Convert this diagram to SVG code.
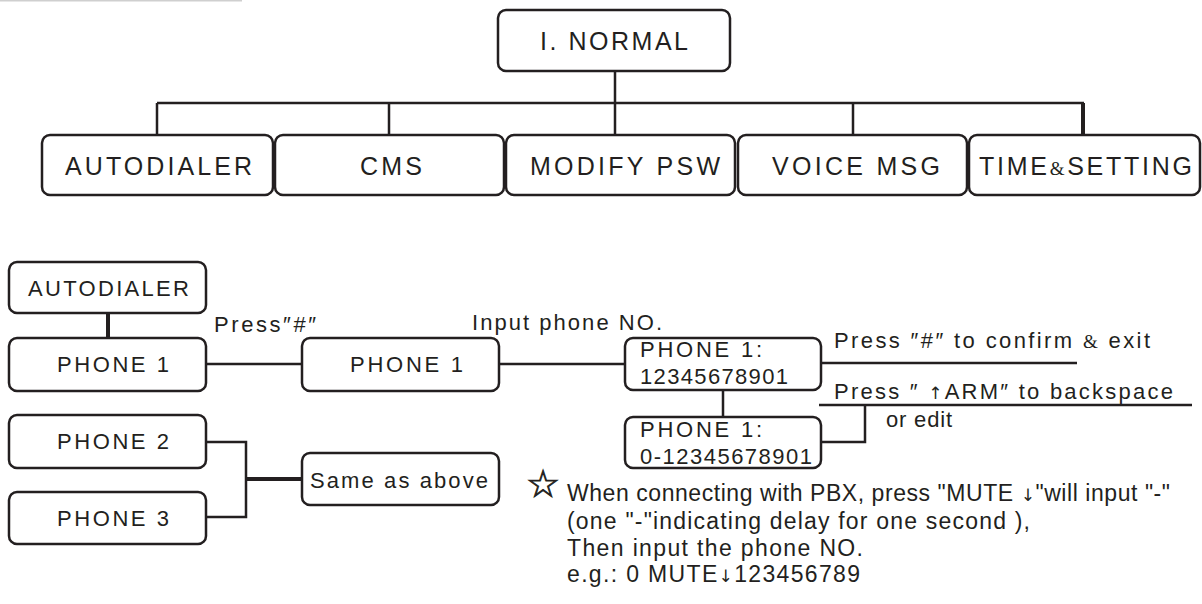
<svg xmlns="http://www.w3.org/2000/svg" width="1202" height="604" viewBox="0 0 1202 604">
<style>
text{font-family:"Liberation Sans",Arial,sans-serif;fill:#231f20}
.box{fill:#fff;stroke:#231f20;stroke-width:2.5}
.big{font-size:25px}
.mid{font-size:22px}
.note{font-size:23px}
.amp{font-family:"Liberation Serif","Times New Roman",serif;font-size:19px}
.arr{font-family:"DejaVu Sans",sans-serif;font-size:17px}
.ln{fill:none;stroke:#231f20;stroke-width:2.5}
.thick{fill:none;stroke:#231f20;stroke-width:4}
</style>
<rect width="1202" height="604" fill="#fff"/>
<line x1="0" y1="0.5" x2="242" y2="0.5" stroke="#cfcfcf" stroke-width="2"/>
<g id="connectors">
<path class="ln" d="M615 71V135M157 103H1084M157 103V135M389 103V135M853 103V135"/>
<path class="thick" d="M1083 103V135"/>
<path class="thick" d="M108 313V338"/>
<path class="ln" d="M206 364H302M499 364H625M821 363H1077M723 390V417M819 405H1192M865 405V442H821"/>
<path class="ln" d="M206 442H246V517H206"/>
<path class="thick" d="M246 479H302"/>
</g>
<g id="normal"><rect class="box" x="498" y="10" width="232" height="61" rx="8"/><text class="big" x="540" y="50" textLength="148">I. NORMAL</text></g>
<g id="autodialer-top"><rect class="box" x="42" y="135" width="231" height="60" rx="8"/><text class="big" x="65" y="175" textLength="187">AUTODIALER</text></g>
<g id="cms"><rect class="box" x="275" y="135" width="229" height="60" rx="8"/><text class="big" x="360" y="175" textLength="62">CMS</text></g>
<g id="modify-psw"><rect class="box" x="506" y="135" width="229" height="60" rx="8"/><text class="big" x="530" y="175" textLength="190">MODIFY PSW</text></g>
<g id="voice-msg"><rect class="box" x="738" y="135" width="229" height="60" rx="8"/><text class="big" x="772" y="175" textLength="168">VOICE MSG</text></g>
<g id="time-setting"><rect class="box" x="969" y="135" width="231" height="60" rx="8"/><text class="big" x="979" y="175" textLength="213">TIME<tspan class="amp">&amp;</tspan>SETTING</text></g>
<g id="autodialer"><rect class="box" x="9" y="262" width="197" height="51" rx="8"/><text class="mid" x="28" y="296" textLength="161">AUTODIALER</text></g>
<g id="phone1-a"><rect class="box" x="9" y="338" width="197" height="53" rx="8"/><text class="mid" x="57" y="372" textLength="112">PHONE 1</text></g>
<g id="phone1-b"><rect class="box" x="302" y="338" width="197" height="53" rx="8"/><text class="mid" x="350" y="372" textLength="113">PHONE 1</text></g>
<g id="phone1-input"><rect class="box" x="625" y="338" width="196" height="52" rx="8"/><text class="mid" x="640" y="357" textLength="122">PHONE 1:</text><text class="mid" x="640" y="384" textLength="148">12345678901</text></g>
<g id="phone1-edit"><rect class="box" x="625" y="417" width="196" height="51" rx="8"/><text class="mid" x="640" y="437" textLength="122">PHONE 1:</text><text class="mid" x="640" y="464" textLength="172">0-12345678901</text></g>
<g id="phone2"><rect class="box" x="9" y="415" width="197" height="53" rx="8"/><text class="mid" x="57" y="449" textLength="112">PHONE 2</text></g>
<g id="phone3"><rect class="box" x="9" y="492" width="197" height="52" rx="8"/><text class="mid" x="57" y="526" textLength="112">PHONE 3</text></g>
<g id="same"><rect class="box" x="302" y="453" width="197" height="52" rx="8"/><text class="mid" x="310" y="488" textLength="178">Same as above</text></g>
<g id="labels">
<text class="mid" x="214" y="332" textLength="102">Press″#″</text>
<text class="mid" x="472" y="330" textLength="190">Input phone NO.</text>
<text class="mid" x="834" y="348" textLength="316">Press ″#″ to confirm <tspan class="amp">&amp;</tspan> exit</text>
<text class="mid" x="834" y="399" textLength="339">Press ″ <tspan class="arr">↑</tspan>ARM″ to backspace</text>
<text class="mid" x="886" y="427" textLength="66">or edit</text>
</g>
<g id="note">
<text x="526" y="497" style="font-family:'DejaVu Sans',sans-serif;font-size:38px;stroke:#231f20;stroke-width:0.8">☆</text>
<text class="note" x="567" y="501" textLength="603">When connecting with PBX, press "MUTE <tspan class="arr">↓</tspan>"will input "-"</text>
<text class="note" x="567" y="529" textLength="463">(one "-"indicating delay for one second ),</text>
<text class="note" x="567" y="556" textLength="296">Then input the phone NO.</text>
<text class="note" x="567" y="582" textLength="293">e.g.: 0 MUTE<tspan class="arr">↓</tspan>123456789</text>
</g>
</svg>
